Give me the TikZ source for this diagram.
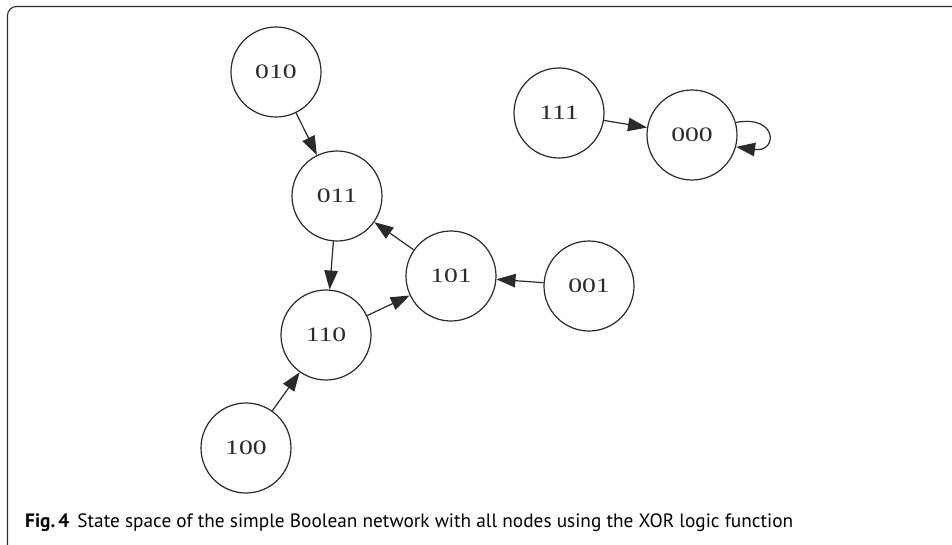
\documentclass[tikz,border=0pt]{standalone}
\usepackage{fontspec}
\usetikzlibrary{arrows.meta}
\newfontfamily\statefont[FakeStretch=1.35]{Liberation Serif}
\newfontfamily\capfont{PT Sans}
\definecolor{ink}{HTML}{2A2A2A}
\tikzset{
  state/.style={circle, draw=ink, line width=1.2pt, minimum size=90pt, inner sep=0pt,
                font=\statefont\fontsize{20.5}{20.5}\selectfont, text=ink},
  trans/.style={draw=ink, line width=1.2pt, -{Triangle[length=19pt,width=13.5pt]}},
}
\begin{document}
\begin{tikzpicture}[x=1pt,y=-1pt]
  \useasboundingbox (0,0) rectangle (952,544);
  % frame: top and left rules with a rounded corner
  \draw[ink, line width=1.1pt, rounded corners=9pt] (7.5,546) -- (7.5,6.5) -- (954,6.5);

  % states
  \node[state] (n010) at (276,72)  {010};
  \node[state] (n011) at (337,196) {011};
  \node[state] (n101) at (451,276) {101};
  \node[state] (n110) at (326,335) {110};
  \node[state] (n001) at (589,286) {001};
  \node[state] (n100) at (246,448) {100};
  \node[state] (n111) at (559,113) {111};
  \node[state] (n000) at (692,135) {000};

  % transitions
  \draw[trans] (n010) -- (n011);
  \draw[trans] (n011) -- (n110);
  \draw[trans] (n101) -- (n011);
  \draw[trans] (n110) -- (n101);
  \draw[trans] (n001) -- (n101);
  \draw[trans] (n100) -- (n110);
  \draw[trans] (n111) -- (n000);
  \draw[trans] (n000.16) .. controls +(42,-8) and +(42,6) .. (n000.-15);

  % caption
  \node[anchor=base west, inner sep=0pt, text=black,
        font=\capfont\fontsize{19.3}{19.3}\selectfont] (cap) at (25,527)
    {\textbf{Fig.\,4}\hspace{8pt}State space of the simple Boolean network with all nodes using the XOR logic function};
\end{tikzpicture}
\end{document}
